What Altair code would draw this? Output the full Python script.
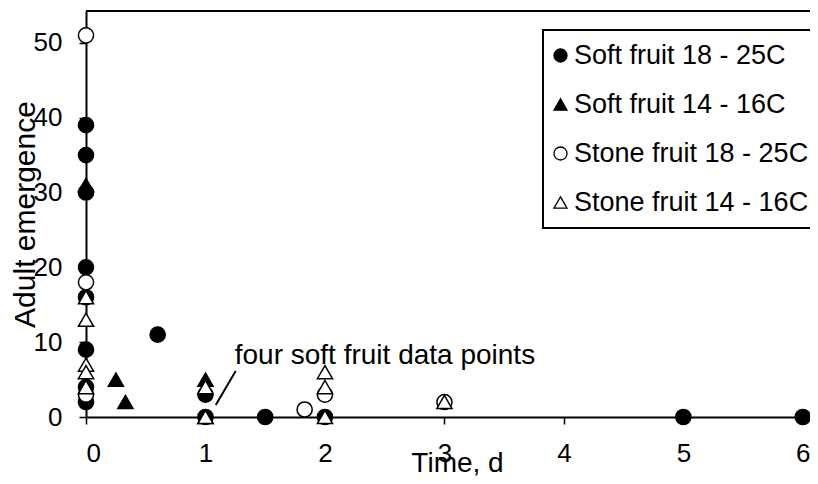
import altair as alt
import pandas as pd

# ---- data ----
series_names = ["Soft fruit 18 - 25C", "Soft fruit 14 - 16C",
                "Stone fruit 18 - 25C", "Stone fruit 14 - 16C"]

soft_warm_x = [0, 0, 0, 0, 0, 0, 0, 0, 0.6, 1, 1, 1.5, 2, 5, 6]
soft_warm_y = [39, 35, 30, 20, 16, 9, 4, 2, 11, 3, 0, 0, 0, 0, 0]

soft_cool_x = [0, 0.25, 0.33, 1, 1]
soft_cool_y = [31, 5, 2, 5, 0]

stone_warm_x = [0, 0, 0, 1.83, 2, 3]
stone_warm_y = [51, 18, 3, 1, 3, 2]

stone_cool_x = [0, 0, 0, 0, 0, 1, 1, 2, 2, 2, 3]
stone_cool_y = [16, 13, 7, 6, 4, 4, 0, 6, 4, 0, 2]

series_fill = ["black", "black", "white", "white"]
series_stroke = ["black", "black", "black", "black"]
series_shape = ["circle", "triangle-up", "circle", "triangle-up"]

x_ticks = [0, 1, 2, 3, 4, 5, 6]
y_ticks = [0, 10, 20, 30, 40, 50]

note_text = ["four soft fruit data points"]
note_x = [1.245]
note_y = [7.1]
pointer_x = [1.253]
pointer_y = [6.14]
pointer_x2 = [1.086]
pointer_y2 = [1.6]

# ---- table ----
frames = []
for name, xs, ys in zip(series_names,
                        [soft_warm_x, soft_cool_x, stone_warm_x, stone_cool_x],
                        [soft_warm_y, soft_cool_y, stone_warm_y, stone_cool_y]):
    frames.append(pd.DataFrame({"series": name, "time": xs, "adults": ys}))
df = pd.concat(frames, ignore_index=True)

FONT = "Liberation Sans"
W, H = 724, 406

xscale = alt.Scale(domain=[0, 6.06], nice=False, zero=False)
yscale = alt.Scale(domain=[0, 54.25], nice=False, zero=False)

legend = alt.Legend(title=None, orient="none", legendX=457, legendY=19,
                    symbolSize=170, symbolStrokeWidth=1.3,
                    symbolOffset=-8,
                    labelFontSize=27, labelFont=FONT, labelLimit=0,
                    labelColor="black", labelOffset=0, padding=12,
                    rowPadding=21, fillColor="white", strokeColor="black")

points = alt.Chart(df).mark_point(
    filled=True, size=230, strokeWidth=1.5, opacity=1
).encode(
    x=alt.X("time:Q", scale=xscale,
            axis=alt.Axis(values=x_ticks, format="d", title="Time, d",
                          labelPadding=16, titleX=371, titleY=54,
                          titleAlign="center", titleBaseline="alphabetic")),
    y=alt.Y("adults:Q", scale=yscale,
            axis=alt.Axis(values=y_ticks, format="d", title="Adult emergence",
                          labelPadding=17, titleX=-52, titleY=203,
                          titleAngle=270, titleAlign="center",
                          titleBaseline="alphabetic", titleFontSize=30)),
    fill=alt.Fill("series:N",
                  scale=alt.Scale(domain=series_names, range=series_fill),
                  legend=legend),
    stroke=alt.Stroke("series:N",
                      scale=alt.Scale(domain=series_names, range=series_stroke),
                      legend=legend),
    shape=alt.Shape("series:N",
                    scale=alt.Scale(domain=series_names, range=series_shape),
                    legend=legend),
)

note_df = pd.DataFrame({"x": note_x, "y": note_y, "text": note_text})
note = alt.Chart(note_df).mark_text(
    align="left", baseline="alphabetic", font=FONT, fontSize=28, color="black"
).encode(x=alt.X("x:Q", scale=xscale), y=alt.Y("y:Q", scale=yscale),
         text="text:N")

ptr_df = pd.DataFrame({"x": pointer_x, "y": pointer_y,
                       "x2": pointer_x2, "y2": pointer_y2})
pointer = alt.Chart(ptr_df).mark_rule(color="black", strokeWidth=2).encode(
    x=alt.X("x:Q", scale=xscale), y=alt.Y("y:Q", scale=yscale),
    x2="x2:Q", y2="y2:Q")

top_line = alt.Chart(note_df).mark_rule(color="black", strokeWidth=2).encode(
    x=alt.value(0), x2=alt.value(W), y=alt.value(0))

chart = alt.layer(top_line, pointer, note, points).properties(
    width=W, height=H,
    autosize=alt.AutoSizeParams(type="none"),
    padding={"left": 78, "top": 3, "right": 0, "bottom": 59},
).configure_view(stroke=None).configure_axis(
    domainColor="black", domainWidth=2, tickColor="black", tickWidth=1.5,
    tickSize=7, grid=False, labelFont=FONT, labelFontSize=26,
    labelColor="black", titleFont=FONT, titleFontSize=28,
    titleFontWeight="normal", titleColor="black"
).configure_legend(strokeWidth=2, cornerRadius=0)

chart.save("out.html", embed_options={"renderer": "svg", "actions": False})
